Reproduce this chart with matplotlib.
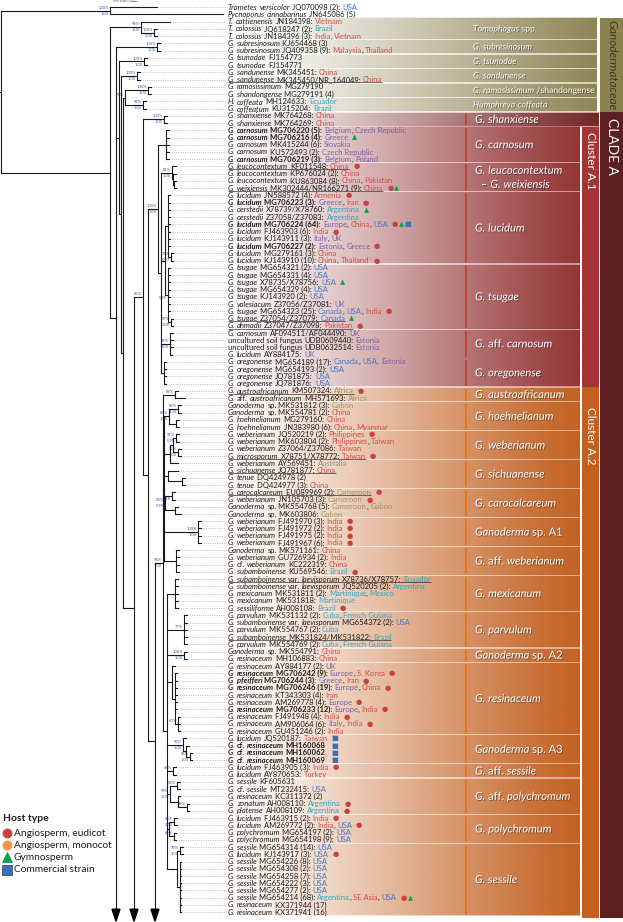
import re
import numpy as np
import matplotlib
matplotlib.use("Agg")
import matplotlib.pyplot as plt
import matplotlib.patheffects as pe
from matplotlib.colors import to_rgb
from matplotlib.collections import LineCollection
from matplotlib.patches import Rectangle, Polygon

plt.rcParams['font.family'] = ['Lato', 'DejaVu Sans']

# species | accession | countries | flags (b bold, u underline) | hosts (e eudicot, m monocot, g gymnosperm, c commercial)
leaves = [
    "Trametes versicolor|JQ070098 (2)|USA||",
    "Pycnoporus cinnabarinus|JN645086 (5)|||",
    "T. cattienensis|JN184398|Vietnam||",
    "T. colossus|JQ618247 (2)|Brazil||",
    "T. colossus|JN184396 (3)|India, Vietnam||",
    "G. subresinosum|KJ654468 (3)|||",
    "G. subresinosum|JQ409358 (9)|Malaysia, Thailand||",
    "G. tsunodae|FJ154773|||",
    "G. tsunodae|FJ154771|||",
    "G. sandunense|MK345451|China||",
    "G. sandunense|MK345450/NR_164049|China|u|",
    "G. ramosissimum|MG279190|||",
    "G. shandongense|MG279191 (4)|||",
    "H. coffeata|MH124633|Ecuador||",
    "G. coffeatum|KU315204|Brazil||",
    "G. shanxiense|MK764268|China||",
    "G. shanxiense|MK764269|China||",
    "G. carnosum|MG706220 (5)|Belgium, Czech Republic|b|",
    "G. carnosum|MG706216 (4)|Greece|b|g",
    "G. carnosum|MK415244 (6)|Slovakia||",
    "G. carnosum|KU572493 (2)|Czech Republic||",
    "G. carnosum|MG706219 (3)|Belgium, Poland|b|",
    "G. leucocontextum|KF011548|China|u|e",
    "G. leucocontextum|KP676024 (2)|China||",
    "G. leucocontextum|KU863084 (8)|China, Pakistan||",
    "G. weixiensis|MK302444/NR166271 (9)|China|u|eg",
    "G. lucidum|JN588572 (4)|Armenia||e",
    "G. lucidum|MG706223 (3)|Greece, Iran|b|e",
    "G. oerstedii|X78739/X78760|Argentina||g",
    "G. oerstedii|Z37058/Z37083|Argentina||",
    "G. lucidum|MG706224 (64)|Europe, China, USA|b|egc",
    "G. lucidum|FJ463903 (6)|India||e",
    "G. lucidum|KJ143911 (3)|Italy, UK||",
    "G. lucidum|MG706227 (2)|Estonia, Greece|b|e",
    "G. lucidum|MG279161 (3)|China||",
    "G. lucidum|KJ143910 (10)|China, Thailand||e",
    "G. tsugae|MG654321 (2)|USA||",
    "G. tsugae|MG654331 (4)|USA||",
    "G. tsugae|X78735/X78756|USA||g",
    "G. tsugae|MG654329 (4)|USA||",
    "G. tsugae|KJ143920 (2)|USA||",
    "G. valesiacum|Z37056/Z37081|UK||",
    "G. tsugae|MG654323 (25)|Canada, USA, India||e",
    "G. tsugae|Z37054/Z37079|Canada|u|g",
    "G. ahmadii|Z37047/Z37098|Pakistan|u|e",
    "G. carnosum|AF094511/AF044490|UK||",
    "~uncultured soil fungus|UDB0609440|Estonia||",
    "~uncultured soil fungus|UDB0632514|Estonia||",
    "G. lucidum|AY884175|UK||",
    "G. oregonense|MG654189 (17)|Canada, USA, Estonia||",
    "G. oregonense|MG654193 (2)|USA||",
    "G. oregonense|JQ781875|USA||",
    "G. oregonense|JQ781876|USA||",
    "G. austroafricanum|KM507324|Africa|u|e",
    "G. aff. austroafricanum|MH571693|Africa||",
    "Ganoderma sp.|MK531812 (3)|Gabon||",
    "Ganoderma sp.|MK554781 (2)|China||",
    "G. hoehnelianum|MG279160|China||",
    "G. hoehnelianum|JN383980 (6)|China, Myanmar||",
    "G. weberianum|JQ520219 (2)|Philippines||e",
    "G. weberianum|MK603804 (2)|Philippines, Taiwan||",
    "G. weberianum|Z37064/Z37086|Taiwan||",
    "G. microsporum|X78751/X78772|Taiwan|u|e",
    "G. weberianum|AY569451|Australia||",
    "G. sichuanense|JQ781877|China|u|",
    "G. tenue|DQ424978 (2)|||",
    "G. tenue|DQ424977 (3)|China||",
    "G. carocalcareum|EU089969 (2)|Cameroon|u|e",
    "G. weberianum|JN105703 (3)|Cameroon||e",
    "Ganoderma sp.|MK554768 (5)|Cameroon, Gabon||",
    "Ganoderma sp.|MK603806|Gabon||",
    "G. weberianum|FJ491970 (3)|India||e",
    "G. weberianum|FJ491972 (2)|India||e",
    "G. weberianum|FJ491975 (2)|India||e",
    "G. weberianum|FJ491967 (6)|India||e",
    "Ganoderma sp.|MK571161|China||",
    "G. weberianum|GU726934 (2)|India||",
    "G. cf. weberianum|KC222319|China||",
    "G. subamboinense|KU569546|Brazil||e",
    "G. subamboinense var. laevisporum|X78736/X78757|Ecuador|u|",
    "G. subamboinense var. laevisporum|JQ520205 (2)|Argentina||",
    "G. mexicanum|MK531811 (2)|Martinique, Mexico||",
    "G. mexicanum|MK531818|Martinique||",
    "G. sessiliforme|AH008108|Brazil||e",
    "G. parvulum|MK531132 (2)|Cuba, French Guiana||",
    "G. subamboinense var. laevisporum|MG654372 (2)|USA||",
    "G. parvulum|MK554767 (2)|Cuba||",
    "G. subamboinense|MK531824/MK531822|Brazil|u|",
    "G. parvulum|MK554769 (2)|Cuba, French Guiana||",
    "Ganoderma sp.|MK554791|China||",
    "G. resinaceum|MH106883|China||",
    "G. resinaceum|AY884177 (2)|UK||",
    "G. resinaceum|MG706242 (9)|Europe, S. Korea|b|e",
    "G. pfeifferi|MG706244 (3)|Greece, Iran|b|e",
    "G. resinaceum|MG706246 (19)|Europe, China|b|e",
    "G. resinaceum|KT343303 (4)|Iran||",
    "G. resinaceum|AM269778 (4)|Europe||e",
    "G. resinaceum|MG706233 (12)|Europe, India|b|e",
    "G. resinaceum|FJ491948 (4)|India||e",
    "G. resinaceum|AM906064 (6)|Italy, India||e",
    "G. resinaceum|GU451246 (2)|India||",
    "G. lucidum|JQ520187|Taiwan||c",
    "G. cf. resinaceum|MH160068||b|c",
    "G. cf. resinaceum|MH160062||b|c",
    "G. cf. resinaceum|MH160069||b|c",
    "G. lucidum|FJ463905 (3)|India||e",
    "G. lucidum|AY870653|Turkey||",
    "G. sessile|KF605631|||",
    "G. cf. sessile|MT232415|USA||",
    "G. resinaceum|KC311372 (2)|||",
    "G. zonatum|AH008110|Argentina||e",
    "G. platense|AH008109|Argentina||e",
    "G. lucidum|FJ463915 (2)|India||e",
    "G. lucidum|AM269772 (2)|India, USA||e",
    "G. polychromum|MG654197 (2)|USA||",
    "G. polychromum|MG654198 (9)|USA||",
    "G. sessile|MG654314 (14)|USA||",
    "G. lucidum|KJ143917 (3)|USA||e",
    "G. sessile|MG654226 (8)|USA||",
    "G. sessile|MG654308 (2)|USA||",
    "G. sessile|MG654258 (7)|USA||",
    "G. sessile|MG654222 (3)|USA||",
    "G. sessile|MG654277 (2)|USA||",
    "G. sessile|MG654214 (68)|Argentina, SE Asia, USA||eg",
    "G. resinaceum|KX371944 (17)|||",
    "G. resinaceum|KX371941 (16)|||",
]

region_of = {
    'Europe': 'E', 'Belgium': 'E', 'Czech Republic': 'E', 'Greece': 'E', 'Slovakia': 'E',
    'Poland': 'E', 'Italy': 'E', 'UK': 'E', 'Estonia': 'E',
    'China': 'A', 'India': 'A', 'Vietnam': 'A', 'Malaysia': 'A', 'Thailand': 'A',
    'Pakistan': 'A', 'Armenia': 'A', 'Iran': 'A', 'Philippines': 'A', 'Taiwan': 'A',
    'Myanmar': 'A', 'S. Korea': 'A', 'SE Asia': 'A', 'Turkey': 'A',
    'USA': 'N', 'Canada': 'N',
    'Brazil': 'L', 'Ecuador': 'L', 'Argentina': 'L', 'Martinique': 'L', 'Mexico': 'L',
    'Cuba': 'L', 'French Guiana': 'L',
    'Africa': 'F', 'Gabon': 'F', 'Cameroon': 'F',
    'Australia': 'O',
}
region_colors = {'E': '#7d5fa8', 'A': '#d24c48', 'N': '#4779c2', 'L': '#35a6c2',
                 'F': '#9d9560', 'O': '#8e8e84'}
host_marks = {'e': ('●', '#c8423f'), 'm': ('●', '#f39440'),
              'g': ('▲', '#10a24a'), 'c': ('■', '#3b70b6')}

# tree pieces (newick, leaves = row numbers, v = lineage cut off with an arrow, @y = node height)
OUT = "(0:47,1:113)100%/1.00"
TOMO = "(2:29,(3:3,4:3)100%/1.00:13)99%/1.00"
SUBRES = "(5:3,6:3)100%/1.00"
TSUN = "(7:3,8:3)100%/1.00"
SAND = "(9:3,10:3)100%/1.00"
RAMO = "(11:3,12:3)100%/1.00"
COFF = "(13:3,14:3)99%/1.00"
SHANX = "(15:3,16:3)100%/1.00"
CARN = "(17:3,18:3,19:3,20:3,21:3)"
LEUCO = "(22:4,(23:3,(24:2,25:2):1):1)81%/1.00"
LUCID = "(26:2,27:2,28:2,29:2,30:2,31:2,32:2,33:2,(34:2,35:2)75%/0.97:3)"
TSUGA = "(36:2,37:2,38:2,39:2,40:2,41:2,42:2,(43:2,44:2)97%/1.00:3)0.95"
AFFCARN = "(45:3,46:3,47:3,48:2)99%/1.00"
OREG = "(49:2,50:2,51:2,52:2)"
AUSTRO = "(53:3,54:10)89%"
HOEH = "((55:3,56:3)89%/1.00:9,(57:3,58:3):7)88%/1.00"
WEBER = "(((59:3,60:3)91%/0.99:3,(61:3,62:3)92%/1.00:5):3,63:8)"
SICHU = "(64:10,(65:3,66:3):14)"
CAROC = "((67:3,68:3)0.98:7,(69:3,70:6):10)84%/0.99"
SPA1 = "(71:3,72:3,73:3,74:3)100%/1.00"
AFFWEB = "(75:3,76:3,77:3,78:3)"
MEXIC = "(79:3,80:3,81:3,82:3,83:3)"
PARVU = "(84:3,85:3,86:3,87:3,88:3)77%"
SPA2 = "(89:3,90:3)100%/1.00"
RESIN = "(91:3,(92:2,93:2,94:2,95:2,96:2,97:2,(98:2,99:2,100:2)60%:3):3)"
SPA3 = "(101:3,(102:3,(103:2,104:2)85%/1.00:4):3)99%/1.00"
AFFSES = "(105:3,106:3)68%"
AFFPOLY = "((107:3,108:3)92%:7,(109:2,(110:2,111:2)99%:9):8)98%/1.00"
POLY = "((112:3,113:3)93%/1.00:5,(114:2,115:2)68%:5)"
SESS = "((116:3,117:3)79%/1.00:3,(118:1,119:1,120:1,121:1,122:1,123:1,124:1,125:1):3)"

A1 = f"({CARN}:8,({LEUCO}:11,({LUCID}:3,{TSUGA}:3):4,{AFFCARN}:9,{OREG}:3):3)100%/1.00"
A2 = (f"({AUSTRO}:12,({HOEH}:5,{WEBER}:6,{SICHU}:4,{CAROC}:1,{SPA1}:34,{AFFWEB}:12):1,"
      f"({MEXIC}:8,{PARVU}:17,{SPA2}:17,{RESIN}:5,{SPA3}:16,{AFFSES}:6,{AFFPOLY}:3,"
      f"{POLY}:2,{SESS}:10):4)94%/1.00")
CLADE_A = f"({SHANX}:21,({A1}:10,({A2}:8,v:0):7):5)85%"
LOWER = f"(({RAMO}:23,{COFF}:18)77%:2,({CLADE_A}:9,v:0):11)"
GANOD = f"({TOMO}:31,({SUBRES}:41,({TSUN}:25,({SAND}:16,{LOWER}:2):2):3,v:0)@318:6)"
tree_nwk = f"({OUT}:109,{GANOD}:109):1"

ganod_groups = [("Tomophagus spp.", 2, 4), ("G. subresinosum", 5, 6), ("G. tsunodae", 7, 8),
                ("G. sandunense", 9, 10), ("G. ramosissimum /shandongense", 11, 12),
                ("Humphreya coffeata", 13, 14)]
shanx_groups = [("G. shanxiense", 15, 16)]
a1_groups = [("G. carnosum", 17, 21), ("G. leucocontextum\n– G. weixiensis", 22, 25),
             ("G. lucidum", 26, 35), ("G. tsugae", 36, 44), ("G. aff. carnosum", 45, 48),
             ("G. oregonense", 49, 52)]
a2_groups = [("G. austroafricanum", 53, 54), ("G. hoehnelianum", 55, 58), ("G. weberianum", 59, 62),
             ("G. sichuanense", 63, 66), ("G. carocalcareum", 67, 70), ("Ganoderma sp. A1", 71, 74),
             ("G. aff. weberianum", 75, 78), ("G. mexicanum", 79, 83), ("G. parvulum", 84, 88),
             ("Ganoderma sp. A2", 89, 90), ("G. resinaceum", 91, 100), ("Ganoderma sp. A3", 101, 104),
             ("G. aff. sessile", 105, 106), ("G. aff. polychromum", 107, 111),
             ("G. polychromum", 112, 115), ("G. sessile", 116, 125)]

legend_items = [("Angiosperm, eudicot", 'e'), ("Angiosperm, monocot", 'm'),
                ("Gymnosperm", 'g'), ("Commercial strain", 'c')]

NONITALIC = {'sp.', 'spp.', 'aff.', 'cf.', 'var.', 'A1', 'A2', 'A3', '–', '/shandongense'}

# ---------------------------------------------------------------- layout
W, H = 623, 922
Y0, DY = 7.2, 7.24
LABEL_X = 228
TEXT = '#1c1c1c'

fig = plt.figure(figsize=(W / 100, H / 100), dpi=100)
ax = fig.add_axes([0, 0, 1, 1])
ax.set_xlim(0, W)
ax.set_ylim(H, 0)
ax.axis('off')
renderer = fig.canvas.get_renderer()


def ry(i):
    return Y0 + DY * i


def grad_band(x0, x1, y0, y1, color, amax, power=1.6, z=0):
    t = np.linspace(0, 1, 300)
    img = np.zeros((1, 300, 4))
    img[..., :3] = to_rgb(color)
    img[0, :, 3] = amax * t ** power
    ax.imshow(img, extent=[x0, x1, y1, y0], aspect='auto', interpolation='bilinear', zorder=z)


def text_w(s, **kw):
    t = ax.text(0, 0, s, **kw)
    w = t.get_window_extent(renderer).width
    t.remove()
    return w


def draw_pieces(x, y, pieces, size, gap, **common):
    """pieces: list of (text, style, weight, color, space_after)"""
    for s, style, weight, color, sp_after in pieces:
        t = ax.text(x, y, s, fontsize=size, fontstyle=style, fontweight=weight, color=color,
                    va='center', ha='left', **common)
        x += t.get_window_extent(renderer).width
        if sp_after:
            x += gap * sp_after
    return x


# ---------------------------------------------------------------- background bands
BAND_X0 = 196
grad_band(BAND_X0, 597, ry(2) - DY / 2, ry(14) + DY / 2, '#8a8150', 0.35)
grad_band(BAND_X0, 599, ry(15) - DY / 2, ry(16) + DY / 2, '#8f2e2e', 0.45)
grad_band(BAND_X0, 580, ry(17) - DY / 2, ry(52) + DY / 2, '#922f2f', 0.5)
grad_band(BAND_X0, 580, ry(53) - DY / 2, ry(125) + DY / 2, '#c45f1c', 0.55)

for grp, col, x1, amax in [(ganod_groups, '#877d48', 597, 0.9), (shanx_groups, '#6e2020', 599, 0.95),
                           (a1_groups, '#8f2b2b', 580, 0.9), (a2_groups, '#c05a18', 580, 0.9)]:
    for name, r0, r1 in grp:
        grad_band(BAND_X0, x1, ry(r0) - DY / 2 + 0.8, ry(r1) + DY / 2 - 0.8, col, amax, z=0.5)

# clade bars
bars = [(600, 623, ry(2) - DY / 2, ry(14) + DY / 2, '#8b8250'),
        (600, 623, ry(15) - DY / 2, ry(125) + DY / 2 + 2, '#5c1f21'),
        (582, 599, ry(17) - DY / 2, ry(52) + DY / 2, '#a33535'),
        (582, 599, ry(53) - DY / 2, ry(125) + DY / 2 + 2, '#c3601f')]
for x0, x1, y0, y1, c in bars:
    ax.add_patch(Rectangle((x0, y0), x1 - x0, y1 - y0, color=c, zorder=1, lw=0))

ax.text(611.5, (ry(2) + ry(14)) / 2, "Ganodermataceae", rotation=270, ha='center', va='center',
        fontsize=8.5, fontstyle='italic', color='#3a3826', zorder=3)
ax.text(611.5, ry(15) + 2, "CLADE A", rotation=270, ha='center', va='top',
        fontsize=10, color='white', zorder=3)
ax.text(590.5, ry(17) + 2, "Cluster A.1", rotation=270, ha='center', va='top',
        fontsize=8.5, color='white', zorder=3)
ax.text(590.5, ry(53) + 16, "Cluster A.2", rotation=270, ha='center', va='top',
        fontsize=8.5, color='white', zorder=3)

# band labels
shadow = [pe.SimplePatchShadow(offset=(0.6, -0.6), shadow_rgbFace='#222222', alpha=0.55), pe.Normal()]


def band_label(name, r0, r1, size, x):
    lines = name.split('\n')
    yc = (ry(r0) + ry(r1)) / 2
    gap = text_w("a a", fontsize=size) - text_w("aa", fontsize=size)
    for k, line in enumerate(lines):
        y = yc + (k - (len(lines) - 1) / 2) * size * 1.75
        words = line.split(' ')
        pieces = [(wd, 'normal' if wd in NONITALIC else 'italic', 'normal', 'white',
                   1 if j < len(words) - 1 else 0) for j, wd in enumerate(words)]
        draw_pieces(x + (6 if k else 0), y, pieces, size, gap, zorder=4, path_effects=shadow)


for name, r0, r1 in ganod_groups:
    band_label(name, r0, r1, 6.2, 473)
for grp, mark in [(shanx_groups, '#c04545'), (a1_groups, '#c04545'), (a2_groups, '#e8741c')]:
    for name, r0, r1 in grp:
        ax.add_patch(Rectangle((464.5, ry(r0) - DY / 2 + 1.2), 2.6, ry(r1) - ry(r0) + DY - 2.4,
                               color=mark, lw=0, zorder=2))
        band_label(name, r0, r1, 8.0, 475)

# ---------------------------------------------------------------- tree


def parse(s):
    s = re.sub(r'\s+', '', s).rstrip(';')
    pos = 0

    def node():
        nonlocal pos
        kids = []
        if s[pos] == '(':
            pos += 1
            while True:
                kids.append(node())
                c = s[pos]
                pos += 1
                if c == ')':
                    break
        m = re.match(r'([^:,()]*)(?::([\d.]+))?', s[pos:])
        pos += m.end()
        name, _, fixed = m.group(1).partition('@')
        return {'name': name, 'fixed': float(fixed) if fixed else None,
                'len': float(m.group(2) or 0), 'kids': kids}
    return node()


BOTTOM = ry(125) + 6


def layout(n, x0):
    n['x'] = x0 + n['len']
    if n['kids']:
        for k in n['kids']:
            layout(k, n['x'])
        n['y'] = (n['kids'][0]['y'] + n['kids'][-1]['y']) / 2
        if n['fixed'] is not None:
            n['y'] = n['fixed']
    elif n['name'] == 'v':
        n['y'] = BOTTOM
    else:
        n['y'] = ry(int(n['name']))


root = parse(tree_nwk)
layout(root, 0)

segs, dots, arrows = [], [], []


def walk(n):
    if n['kids']:
        segs.append([(n['x'], n['kids'][0]['y']), (n['x'], n['kids'][-1]['y'])])
        for k in n['kids']:
            if k['name'] != 'v':
                segs.append([(n['x'], k['y']), (k['x'], k['y'])])
            else:
                arrows.append(n['x'])
            walk(k)
        if n['name']:
            parts = n['name'].split('/')
            top = [p for p in parts if '%' in p]
            bot = [p for p in parts if '%' not in p]
            if top:
                ax.text(n['x'] - 1, n['y'] - 1.0, top[0], fontsize=2.9, color='#3b5a9c',
                        ha='right', va='bottom', zorder=5)
            if bot:
                ax.text(n['x'] - 1, n['y'] + 1.0, bot[0], fontsize=2.9, color='#3b5a9c',
                        ha='right', va='top', zorder=5)
    elif n['name'] != 'v':
        dots.append([(n['x'] + 1, n['y']), (LABEL_X - 2, n['y'])])


walk(root)
segs.append([(0, root['y']), (root['x'], root['y'])])
ax.add_collection(LineCollection(segs, colors='#1a1a1a', linewidths=0.8, zorder=5,
                                 capstyle='projecting'))
ax.add_collection(LineCollection(dots, colors='#9a9a9a', linewidths=0.5, linestyles=(0, (1, 1.6)),
                                 zorder=4))
for xa in arrows:
    ax.add_patch(Polygon([(xa - 4, BOTTOM - 9), (xa + 4, BOTTOM - 9), (xa, BOTTOM + 3)],
                         closed=True, color='black', zorder=6))

# tree scale
ax.text(112, 1.2, "Tree scale: 0.01", fontsize=2.4, color='#555555', va='center', ha='left')
ax.plot([131, 137], [1.2, 1.2], color='#555555', lw=0.4)

# ---------------------------------------------------------------- leaf labels
LSIZE = 5.5
gaps = {w: text_w("a a", fontsize=LSIZE, fontweight=w) - text_w("aa", fontsize=LSIZE, fontweight=w)
        for w in ('normal', 'bold')}
underlines = []
for i, spec in enumerate(leaves):
    sp, acc, ctry, flags, hosts = spec.split('|')
    weight = 'bold' if 'b' in flags else 'normal'
    gap = gaps[weight]
    pieces = []
    if sp.startswith('~'):
        pieces.append((sp[1:], 'normal', weight, TEXT, 1))
    else:
        for wd in sp.split(' '):
            pieces.append((wd, 'normal' if wd in NONITALIC else 'italic', weight, TEXT, 1))
    countries = [c.strip() for c in ctry.split(',')] if ctry else []
    pieces.append((acc + (':' if countries else ''), 'normal', weight, TEXT, 1))
    for k, c in enumerate(countries):
        pieces.append((c, 'normal', 'normal', region_colors[region_of[c]], 0))
        if k < len(countries) - 1:
            pieces.append((',', 'normal', 'normal', TEXT, 1))
    y = ry(i)
    xend = draw_pieces(LABEL_X, y, pieces, LSIZE, gap, zorder=5)
    if 'u' in flags:
        underlines.append([(LABEL_X, y + 2.8), (xend, y + 2.8)])
    xm = xend + gap * 2
    for h in hosts:
        sym, col = host_marks[h]
        t = ax.text(xm, y, sym, fontsize=5.2 if sym != '▲' else 4.8, color=col, va='center',
                    ha='left', family='DejaVu Sans', zorder=5)
        xm += t.get_window_extent(renderer).width + 0.8
ax.add_collection(LineCollection(underlines, colors='#333333', linewidths=0.5, zorder=5))

# ---------------------------------------------------------------- legend
ax.text(3, 818, "Host type", fontsize=7.5, fontweight='bold', color=TEXT, va='center')
mk = {'e': 'o', 'm': 'o', 'g': '^', 'c': 's'}
for k, (lab, h) in enumerate(legend_items):
    yy = 833 + k * 12.2
    ax.plot(7, yy, marker=mk[h], markersize=6.5, color=host_marks[h][1],
            markeredgecolor='#2f4f80' if h == 'c' else host_marks[h][1], markeredgewidth=0.6,
            clip_on=False)
    ax.text(14, yy, lab, fontsize=7.3, color=TEXT, va='center')

ax.set_xlim(0, W)
ax.set_ylim(H, 0)
fig.savefig("out.png", dpi=100)
